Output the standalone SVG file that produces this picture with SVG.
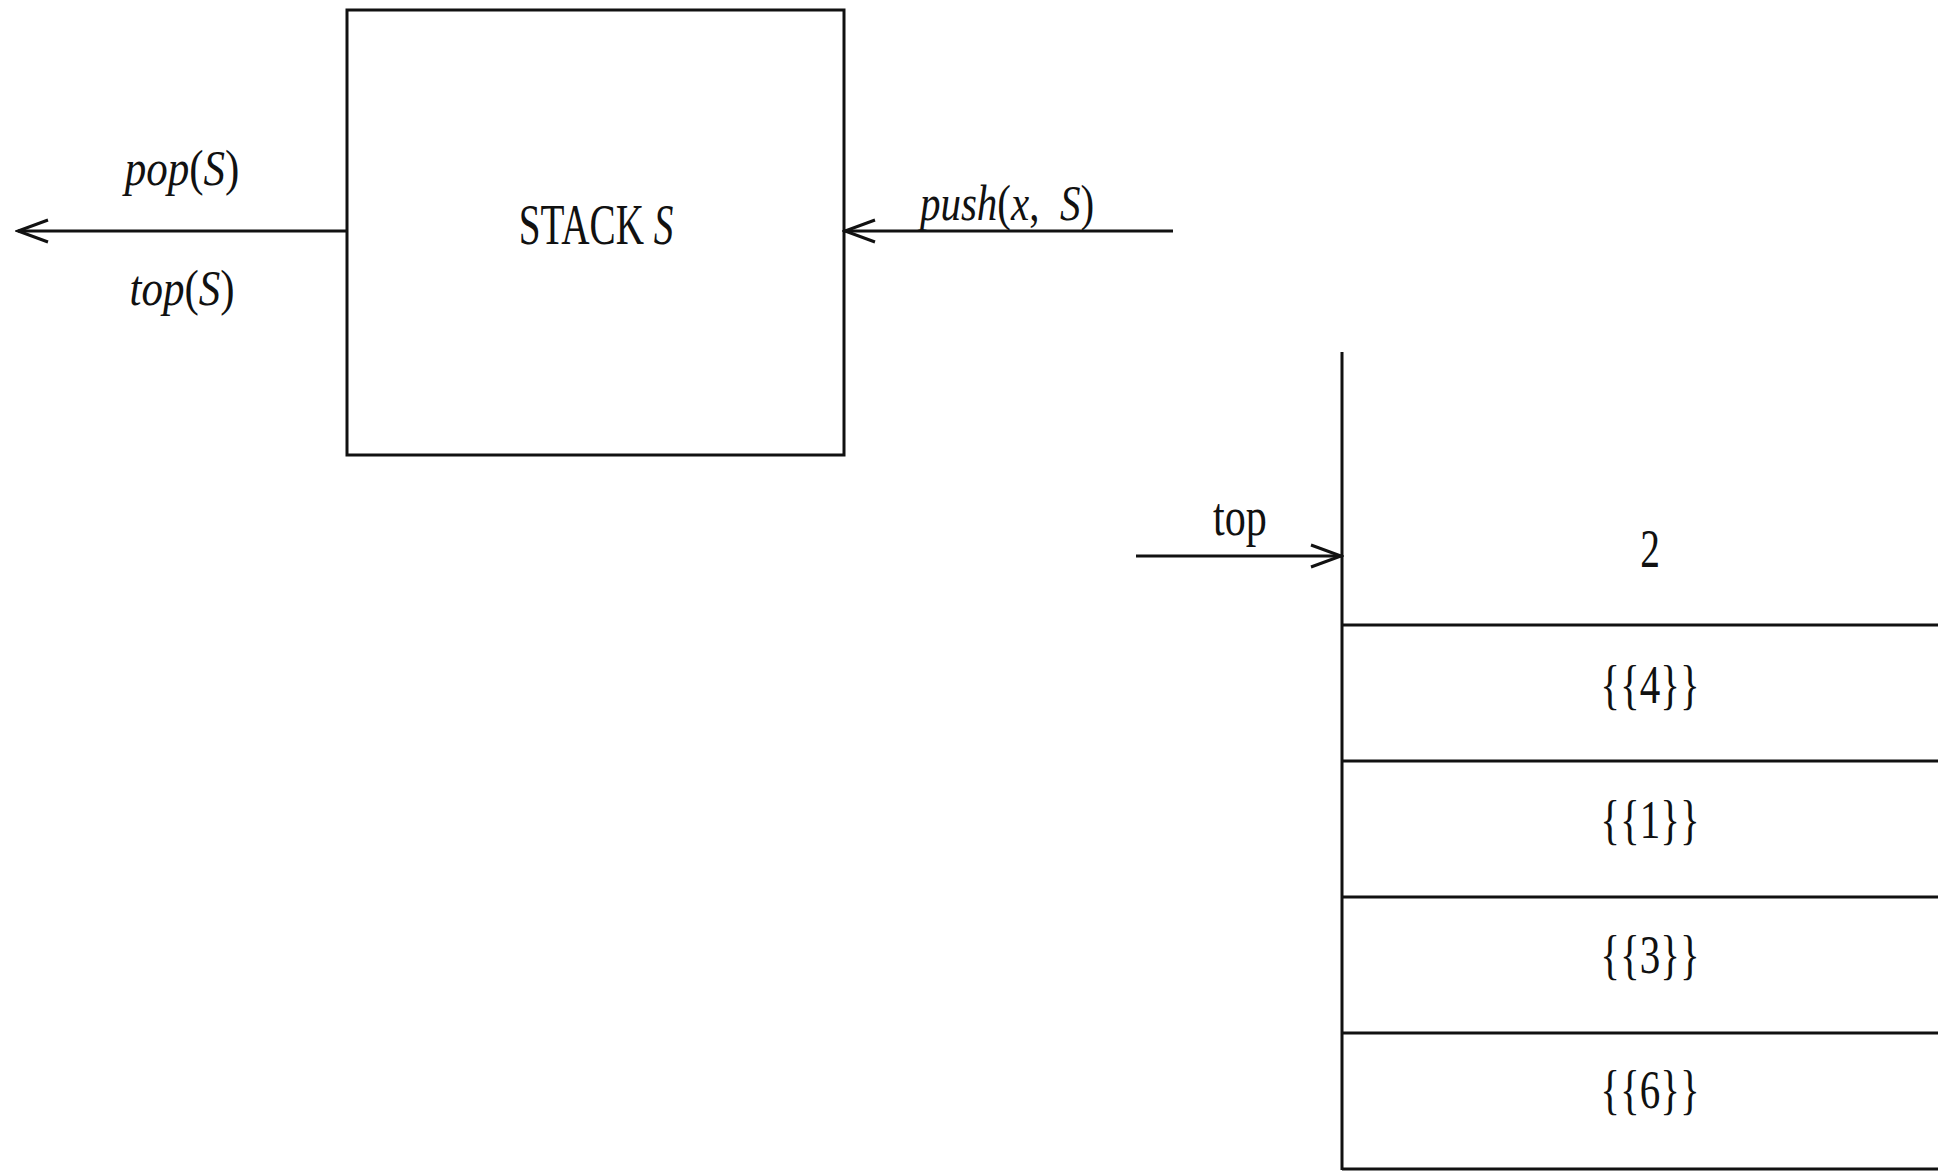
<svg xmlns="http://www.w3.org/2000/svg" width="1938" height="1174" viewBox="0 0 1938 1174">
<style>
.ln{stroke:#111;stroke-width:3;fill:none}
.box{stroke:#111;stroke-width:3;fill:#fff}
.t{font-family:"Liberation Serif","Times New Roman",serif;fill:#111;text-anchor:middle}
.i{font-style:italic}
</style>
<defs>
<marker id="ah" markerWidth="36" markerHeight="26" refX="33" refY="13" orient="auto" markerUnits="userSpaceOnUse">
<path d="M3,2 L33,13 L3,24" fill="none" stroke="#111" stroke-width="3"/>
</marker>
</defs>
<rect width="1938" height="1174" fill="#fff"/>
<g id="stack-box">
<rect class="box" x="347" y="10" width="497" height="445"/>
<text class="t" font-size="56" transform="translate(596,244) scale(0.7,1)">STACK <tspan class="i">S</tspan></text>
</g>
<g id="stack-array">
<line class="ln" x1="1342" y1="352" x2="1342" y2="1170"/>
<line class="ln" x1="1342" y1="625" x2="1938" y2="625"/>
<line class="ln" x1="1342" y1="761" x2="1938" y2="761"/>
<line class="ln" x1="1342" y1="897" x2="1938" y2="897"/>
<line class="ln" x1="1342" y1="1033" x2="1938" y2="1033"/>
<line class="ln" x1="1342" y1="1169" x2="1938" y2="1169"/>
<text class="t" font-size="54" transform="translate(1650,567) scale(0.73,1)">2</text>
<text class="t" font-size="54" transform="translate(1650,703) scale(0.76,1)">{{4}}</text>
<text class="t" font-size="54" transform="translate(1650,838) scale(0.76,1)">{{1}}</text>
<text class="t" font-size="54" transform="translate(1650,973) scale(0.76,1)">{{3}}</text>
<text class="t" font-size="54" transform="translate(1650,1108) scale(0.76,1)">{{6}}</text>
</g>
<g id="connectors">
<line class="ln" x1="347" y1="231" x2="18" y2="231" marker-end="url(#ah)"/>
<line class="ln" x1="1173" y1="231" x2="845" y2="231" marker-end="url(#ah)"/>
<line class="ln" x1="1136" y1="556" x2="1341" y2="556" marker-end="url(#ah)"/>
<text class="t" font-size="50" transform="translate(182,185) scale(0.86,1)"><tspan class="i">pop</tspan>(<tspan class="i">S</tspan>)</text>
<text class="t" font-size="50" transform="translate(182,305) scale(0.86,1)"><tspan class="i">top</tspan>(<tspan class="i">S</tspan>)</text>
<text class="t" font-size="50" transform="translate(1007,220) scale(0.82,1)"><tspan class="i">push</tspan>(<tspan class="i">x</tspan>,&#160; <tspan class="i">S</tspan>)</text>
<text class="t" font-size="54" transform="translate(1240,535) scale(0.78,1)">top</text>
</g>
</svg>
